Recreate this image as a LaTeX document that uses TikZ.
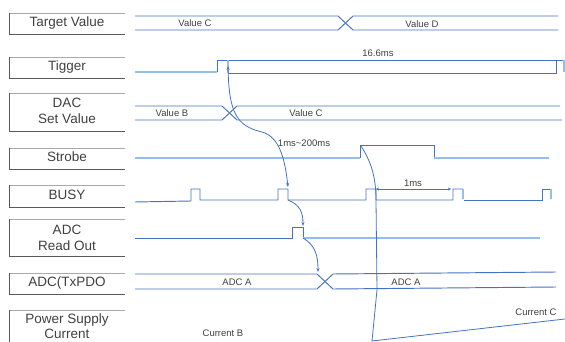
\documentclass[tikz,border=0pt]{standalone}
\usepackage{fontspec}
\setmainfont{Liberation Sans}
\usetikzlibrary{arrows.meta}
\definecolor{sigdark}{RGB}{68,114,196}
\definecolor{siglite}{RGB}{150,190,235}
\definecolor{lblline}{RGB}{89,89,89}
\definecolor{lbltop}{RGB}{170,170,170}
\definecolor{txt}{RGB}{64,64,64}
\tikzset{
  sig/.style={draw=sigdark, line width=0.95pt, line join=miter},
  lite/.style={draw=siglite, line width=1.15pt},
  conn/.style={draw=sigdark, line width=0.8pt},
  tip/.style={-{Stealth[length=4pt,width=3pt]}},
  lblbox/.style={draw=lblline, line width=0.6pt},
  lbltopl/.style={draw=lbltop, line width=0.6pt},
  lbl/.style={font=\fontsize{13.5}{15.5}\selectfont, text=txt, align=center, inner sep=0pt},
  val/.style={font=\fontsize{9.5}{11}\selectfont, text=txt, inner sep=0pt},
}
\begin{document}
\begin{tikzpicture}[x=1pt,y=-1pt]
\useasboundingbox (0,0) rectangle (565,342);
% label brackets
\foreach \t/\b in {13/34, 57/78, 93/131, 148/169, 185/207, 219/256, 273/294}{
  \draw[lbltopl] (9,\t) -- (125,\t);
  \draw[lblbox] (9,\t) -- (9,\b) -- (125,\b);
}
\draw[lbltopl] (9,310) -- (125,310);
\draw[lblbox] (9,310) -- (9,342);
% labels
\node[lbl] (lTV) at (67,23) {Target Value};
\node[lbl] (lTG) at (67,67) {Tigger};
\node[lbl] (lDAC) at (67,111) {DAC\\Set Value};
\node[lbl] (lSTR) at (67,157) {Strobe};
\node[lbl] (lBUSY) at (67,195) {BUSY};
\node[lbl] (lADC) at (67,238) {ADC\\Read Out};
\node[lbl] (lTX) at (67,283) {ADC(TxPDO};
\node[lbl] (lPS) at (67,326) {Power Supply\\Current};
% Target value
\draw[sig] (135,16) -- (338,16) -- (353,30) -- (558,30);
\draw[sig] (135,30) -- (338,30) -- (353,16) -- (558,16);
\node[val] (vC1) at (195,23) {Value C};
\node[val] (vD) at (422,24) {Value D};
% Trigger
\draw[lite] (135,72) -- (217,72);
\draw[sig] (217,72) -- (217,60) -- (228,60);
\draw[sig] (228,60) -- (556,60);
\draw[lite] (228,60) -- (228,73);
\draw[sig] (228,73) -- (556,73) -- (556,60) -- (564,60);
\draw[lite] (564,60) -- (564,72);
\node[val] (t166) at (378,53) {16.6ms};
% DAC
\draw[sig] (135,106) -- (222,106) -- (237,120) -- (562,120);
\draw[sig] (135,120) -- (222,120) -- (237,106) -- (560,106);
\node[val] (vB) at (172,113) {Value B};
\node[val] (vC2) at (306,113) {Value C};
% Strobe
\draw[lite] (135,158) -- (360,158);
\draw[sig] (360,158) -- (360,145) -- (434,145) -- (434,158);
\draw[lite] (434,158) -- (549,158);
\node[val] (t1200) at (304,143) {1ms\textasciitilde200ms};
% BUSY
\draw[sig] (135,202) -- (191,201) -- (191,189) -- (200,189) -- (200,200) -- (278,200) -- (278,189) -- (288,189) -- (288,200) -- (366,200) -- (366,189) -- (376,189) -- (376,200) -- (453,200) -- (453,189) -- (463,189);
\draw[lite] (463,189) -- (463,199);
\draw[sig] (464,200) -- (542,200) -- (542,189) -- (551,189);
\draw[lite] (551,189) -- (551,199);
\draw[conn, {Stealth[length=3pt,width=3pt]}-{Stealth[length=3pt,width=3pt]}] (376,189) -- (451,189);
\node[val] (t1ms) at (413,183) {1ms};
% ADC read out
\draw[sig] (135,238) -- (292,238) -- (292,227) -- (303,227) -- (303,238);
\draw[lite] (303,238) -- (540,238);
% ADC TxPDO
\draw[sig] (135,274) -- (317,274) -- (333,289) -- (556,287);
\draw[sig] (135,289) -- (317,289) -- (333,274) -- (556,272);
\node[val] (vA1) at (237,282) {ADC A};
\node[val] (vA2) at (406,282) {ADC A};
% Power supply
\node[val] (cB) at (223,333) {Current B};
\node[val] (cC) at (536,312) {Current C};
% connectors
\draw[conn, {Stealth[length=4pt,width=3pt]}-{Stealth[length=4pt,width=3pt]}] (228,66) .. controls (229,112) and (236,126) .. (262,132) .. controls (280,137) and (285,160) .. (288,187);
\draw[conn, tip] (288,200) .. controls (300,205) and (303,212) .. (303,226);
\draw[conn, tip] (303,238) .. controls (315,245) and (318,255) .. (318,272);
\draw[conn] (361,146) .. controls (370,160) and (376,175) .. (376,200) -- (377,290) -- (372,341) -- (565,319);
\end{tikzpicture}
\end{document}
